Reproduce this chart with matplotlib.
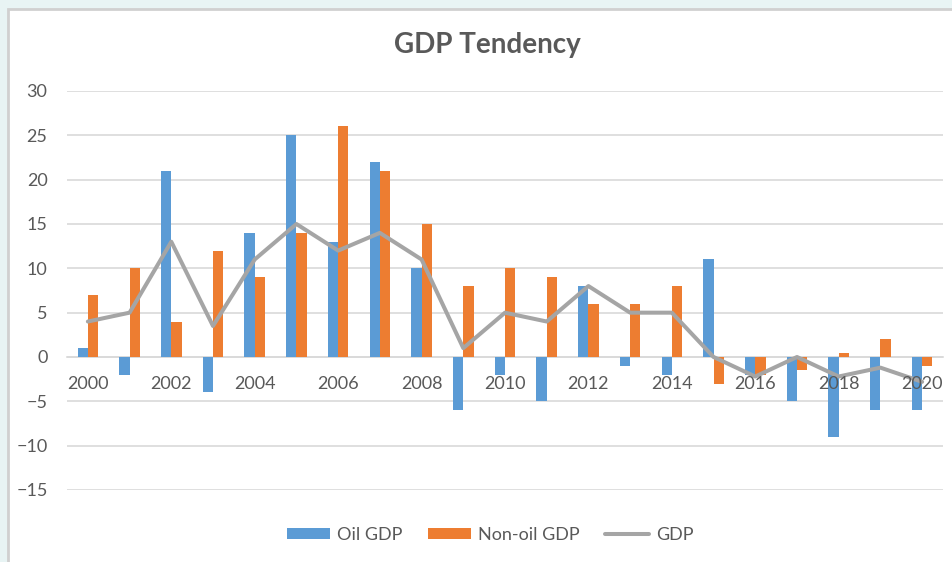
import numpy as np
import matplotlib.pyplot as plt
from matplotlib.patches import Rectangle

years = list(range(2000, 2021))
oil_gdp = [1, -2, 21, -4, 14, 25, 13, 22, 10, -6, -2, -5, 8, -1, -2, 11, -2, -5, -9, -6, -6]
non_oil_gdp = [7, 10, 4, 12, 9, 14, 26, 21, 15, 8, 10, 9, 6, 6, 8, -3, -2, -1.5, 0.5, 2, -1]
gdp = [4, 5, 13, 3.5, 11, 15, 12, 14, 11, 1, 5, 4, 8, 5, 5, 0, -2.2, 0, -2.2, -1.2, -2.8]

blue = '#5b9bd5'
orange = '#ed7d31'
gray = '#a5a5a5'
text_col = '#595959'

plt.rcParams['font.family'] = ['Lato', 'DejaVu Sans']

fig = plt.figure(figsize=(9.52, 5.62), dpi=100)
fig.patch.set_facecolor('#e8f4f4')
# white chart box with thin gray border
box = Rectangle((7.5 / 952, -0.05), 1.0, 1 - 8.5 / 562 + 0.05,
                transform=fig.transFigure, facecolor='white',
                edgecolor='#d0d0d0', linewidth=2, zorder=-1)
fig.patches.append(box)

ax = fig.add_axes([67 / 952, 1 - 490 / 562, 876 / 952, 399 / 562])
ax.set_facecolor('none')

x = np.arange(len(years))
w = 0.245
b1 = ax.bar(x - w / 2, oil_gdp, w, color=blue, label='Oil GDP', zorder=2)
b2 = ax.bar(x + w / 2, non_oil_gdp, w, color=orange, label='Non-oil GDP', zorder=2)
ln, = ax.plot(x, gdp, color=gray, linewidth=2.9, label='GDP', zorder=3, solid_capstyle='round')

ax.set_xlim(-0.5, len(years) - 0.5)
ax.set_ylim(-15, 30)
ax.set_yticks(range(-15, 31, 5))
ax.yaxis.grid(True, color='#d9d9d9', linewidth=1.2, zorder=0)
ax.set_axisbelow(True)
ax.xaxis.set_zorder(4)  # year labels sit on top of the bars

for s in ['top', 'right', 'left']:
    ax.spines[s].set_visible(False)
ax.spines['bottom'].set_position(('data', 0))
ax.spines['bottom'].set_color('#d9d9d9')
ax.spines['bottom'].set_linewidth(1.2)
ax.spines['bottom'].set_zorder(1)

ax.set_xticks(x[::2])
ax.set_xticklabels([str(y) for y in years[::2]])
ax.tick_params(axis='x', length=0, pad=14, labelsize=13, labelcolor=text_col)
ax.tick_params(axis='y', length=0, pad=14, labelsize=13, labelcolor=text_col)

fig.text(487 / 952, 1 - 45 / 562, 'GDP Tendency', ha='center', va='center',
         fontsize=20, fontweight='bold', color=text_col)

fig.legend([b1, b2, ln], ['Oil GDP', 'Non-oil GDP', 'GDP'],
           loc='center', bbox_to_anchor=(490 / 952, 1 - 535 / 562), ncol=3,
           frameon=False, fontsize=13, handlelength=2.4, handleheight=0.6,
           handletextpad=0.4, columnspacing=1.4, labelcolor=text_col)

plt.savefig('out.png', dpi=100, facecolor=fig.get_facecolor())
